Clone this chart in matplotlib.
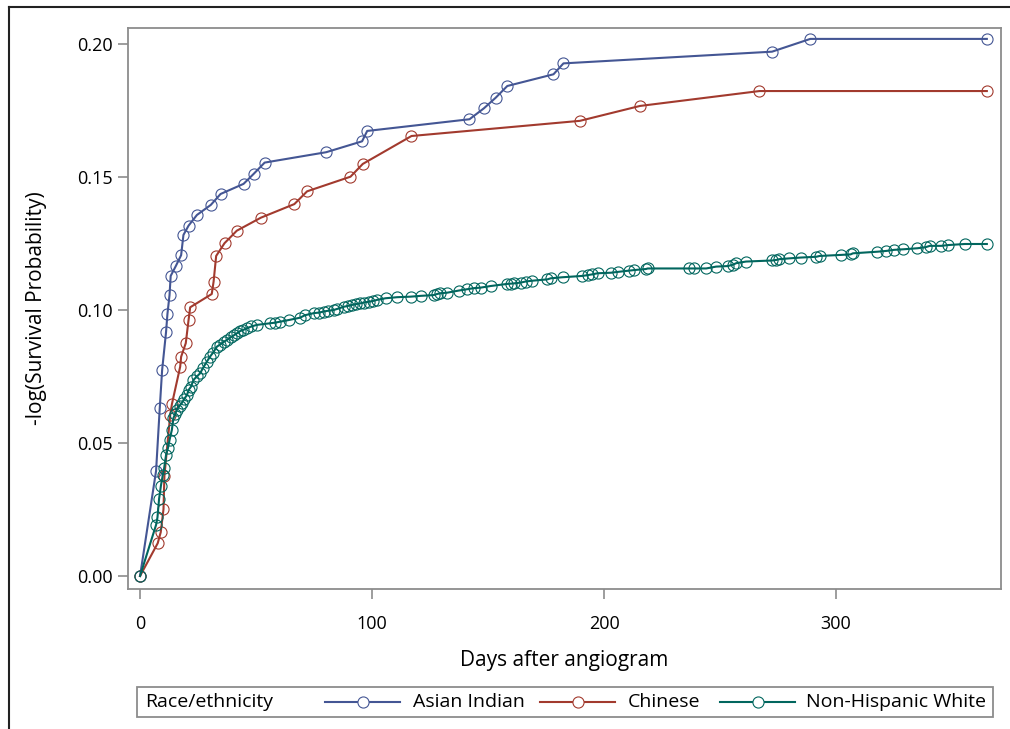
import matplotlib
matplotlib.use("Agg")
import matplotlib.pyplot as plt
from matplotlib.lines import Line2D
from matplotlib.patches import Rectangle

plt.rcParams['font.family'] = ['Open Sans', 'DejaVu Sans']

# ---- data ----
asian_days = [0, 6.9, 8.5, 9.5, 11.2, 11.8, 12.7, 13.2, 15.4, 17.7, 18.7, 20.9, 24.5, 30.5,
              34.7, 44.6, 48.9, 53.7, 80.2, 95.7, 97.9, 142, 148.2, 153.3, 158.3, 178.2,
              182.5, 272.4, 288.9, 365]
asian_val = [0, 0.0395, 0.0633, 0.0773, 0.0917, 0.0985, 0.1056, 0.1128, 0.1165, 0.1206,
             0.1282, 0.1317, 0.1357, 0.1395, 0.1436, 0.1474, 0.1511, 0.1554, 0.1593, 0.1634,
             0.1673, 0.1717, 0.1758, 0.1798, 0.1842, 0.1886, 0.1927, 0.1971, 0.2019, 0.2019]

chinese_days = [0, 7.6, 8.9, 10.1, 10.5, 13, 13.7, 17.3, 17.7, 19.7, 20.9, 21.6, 30.9, 31.7,
                32.8, 36.4, 41.7, 52.1, 66.5, 72, 90.7, 96, 117, 189.6, 215.5, 267, 365]
chinese_val = [0, 0.0123, 0.0164, 0.0251, 0.0377, 0.0605, 0.0645, 0.0787, 0.0824, 0.0875,
               0.0962, 0.101, 0.106, 0.1107, 0.1203, 0.1251, 0.1298, 0.1347, 0.1398, 0.1446,
               0.1501, 0.1549, 0.1654, 0.1711, 0.1767, 0.1823, 0.1823]

white_days = [0, 6.9, 7.5, 8.2, 9, 9.8, 10.4, 11.2, 12.0, 12.7, 13.7, 14.4, 15.2, 15.8, 17,
              18, 19, 20.2, 21, 22, 23, 24.5, 25.9, 27, 28.8, 30.2, 31.5, 33.1, 34.5, 36,
              37.4, 39, 40.5, 41.7, 43, 44.5, 46, 48, 50.4, 56.1, 58, 60.4, 64, 69, 71, 74.8,
              77, 79.1, 81, 83.5, 85, 87.8, 89.5, 91.4, 93, 95, 96.5, 98.6, 100.5, 102.2,
              105.8, 110.8, 116.6, 120.9, 126.6, 128, 129.5, 132.4, 137.4, 141, 143.9, 146.8,
              151.1, 158.3, 160, 161.2, 164.1, 166.2, 169.1, 175.6, 177, 182.1, 190.7, 192.9,
              195, 197.2, 203, 205.8, 210.9, 213, 218.1, 218.8, 236.8, 238.9, 244, 248.3,
              253.3, 255.5, 257, 261.2, 272.4, 274.2, 275.6, 279.9, 284.7, 291.5, 292.9,
              302.2, 306.3, 307.3, 317.8, 321.7, 325, 328.9, 335.1, 338.6, 340.4, 345.4,
              348.3, 355.5, 365]
white_val = [0, 0.0192, 0.022, 0.029, 0.034, 0.038, 0.0406, 0.0455, 0.048, 0.0511, 0.0549,
             0.0594, 0.061, 0.0624, 0.064, 0.065, 0.0665, 0.068, 0.07, 0.0712, 0.0737, 0.075,
             0.0762, 0.078, 0.0806, 0.0825, 0.084, 0.0862, 0.087, 0.088, 0.0887, 0.0897,
             0.0905, 0.0912, 0.092, 0.0925, 0.0931, 0.0938, 0.0944, 0.095, 0.0952, 0.0956,
             0.0962, 0.0971, 0.098, 0.0988, 0.099, 0.0994, 0.0997, 0.1, 0.1004, 0.1012,
             0.1015, 0.1019, 0.1022, 0.1025, 0.1028, 0.1031, 0.1034, 0.1038, 0.1044, 0.1048,
             0.105, 0.1053, 0.1056, 0.106, 0.1063, 0.1065, 0.1073, 0.1078, 0.1082, 0.1084,
             0.109, 0.1098, 0.1099, 0.11, 0.1103, 0.1107, 0.111, 0.1115, 0.1119, 0.1123,
             0.1128, 0.1131, 0.1134, 0.1138, 0.114, 0.1143, 0.1148, 0.115, 0.1154, 0.1156,
             0.1156, 0.1156, 0.1156, 0.1163, 0.1165, 0.117, 0.1176, 0.1182, 0.1186, 0.1188,
             0.1191, 0.1194, 0.1197, 0.12, 0.1203, 0.1207, 0.1209, 0.1213, 0.1219, 0.1222,
             0.1226, 0.1228, 0.1232, 0.1236, 0.1241, 0.1241, 0.1244, 0.1248, 0.1248]

series_names = ["Asian Indian", "Chinese", "Non-Hispanic White"]
series_colors = ["#445694", "#A23A2E", "#01665E"]
x_ticks = [0, 100, 200, 300]
y_ticks = [0.00, 0.05, 0.10, 0.15, 0.20]
y_ticklabels = ["0.00", "0.05", "0.10", "0.15", "0.20"]

# ---- figure ----
W, H = 1010, 729
fig = plt.figure(figsize=(W / 100, H / 100), dpi=100)
ax = fig.add_axes([128 / W, 1 - 589 / H, (1001 - 128) / W, (589 - 28) / H])

data = [(asian_days, asian_val), (chinese_days, chinese_val), (white_days, white_val)]
for (xs, ys), name, c in zip(data, series_names, series_colors):
    ax.plot(xs, ys, color=c, lw=1.5, marker='o', markersize=8, markerfacecolor='none',
            markeredgecolor=c, markeredgewidth=0.8, label=name, zorder=3)

ax.set_xlim(-5.2, 371.1)
ax.set_ylim(-0.0049, 0.206)
ax.set_xticks(x_ticks)
ax.set_xticklabels([str(t) for t in x_ticks])
ax.set_yticks(y_ticks)
ax.set_yticklabels(y_ticklabels)

frame_col = "#8c8c8c"
for s in ax.spines.values():
    s.set_color(frame_col)
    s.set_linewidth(1.3)
ax.tick_params(direction='out', length=7, width=1.2, color=frame_col, labelsize=13,
               labelcolor='black', pad=4)
ax.tick_params(axis='x', pad=12)

ax.set_xlabel("Days after angiogram", fontsize=15, labelpad=12)
ax.set_ylabel("-log(Survival Probability)", fontsize=15, labelpad=22)

# ---- legend (manual, in figure pixels) ----
def fx(px):
    return px / W

def fy(py):
    return 1 - py / H

fig.add_artist(Rectangle((fx(137), fy(717)), fx(993) - fx(137), fy(687) - fy(717),
                         transform=fig.transFigure, fill=False, edgecolor=frame_col, lw=1.3))
ly = 702
fig.text(fx(145), fy(ly), "Race/ethnicity", fontsize=14, va='center', ha='left')
leg_pos = [(325, 400, 413), (540, 615, 628), (720, 795, 806)]
for (x0, x1, xt), name, c in zip(leg_pos, series_names, series_colors):
    fig.add_artist(Line2D([fx(x0), fx(x1)], [fy(ly), fy(ly)], transform=fig.transFigure,
                          color=c, lw=1.5))
    fig.add_artist(Line2D([fx((x0 + x1) / 2)], [fy(ly)], transform=fig.transFigure,
                          color=c, marker='o', markersize=8, markerfacecolor='white',
                          markeredgewidth=0.8, linestyle='none'))
    fig.text(fx(xt), fy(ly), name, fontsize=14, va='center', ha='left')

# ---- outer border (left and top) ----
fig.add_artist(Line2D([fx(9), fx(9)], [fy(729), fy(7)], transform=fig.transFigure,
                      color="#222222", lw=1.5))
fig.add_artist(Line2D([fx(9), fx(1010)], [fy(7), fy(7)], transform=fig.transFigure,
                      color="#222222", lw=1.5))

fig.savefig("out.png", dpi=100)
